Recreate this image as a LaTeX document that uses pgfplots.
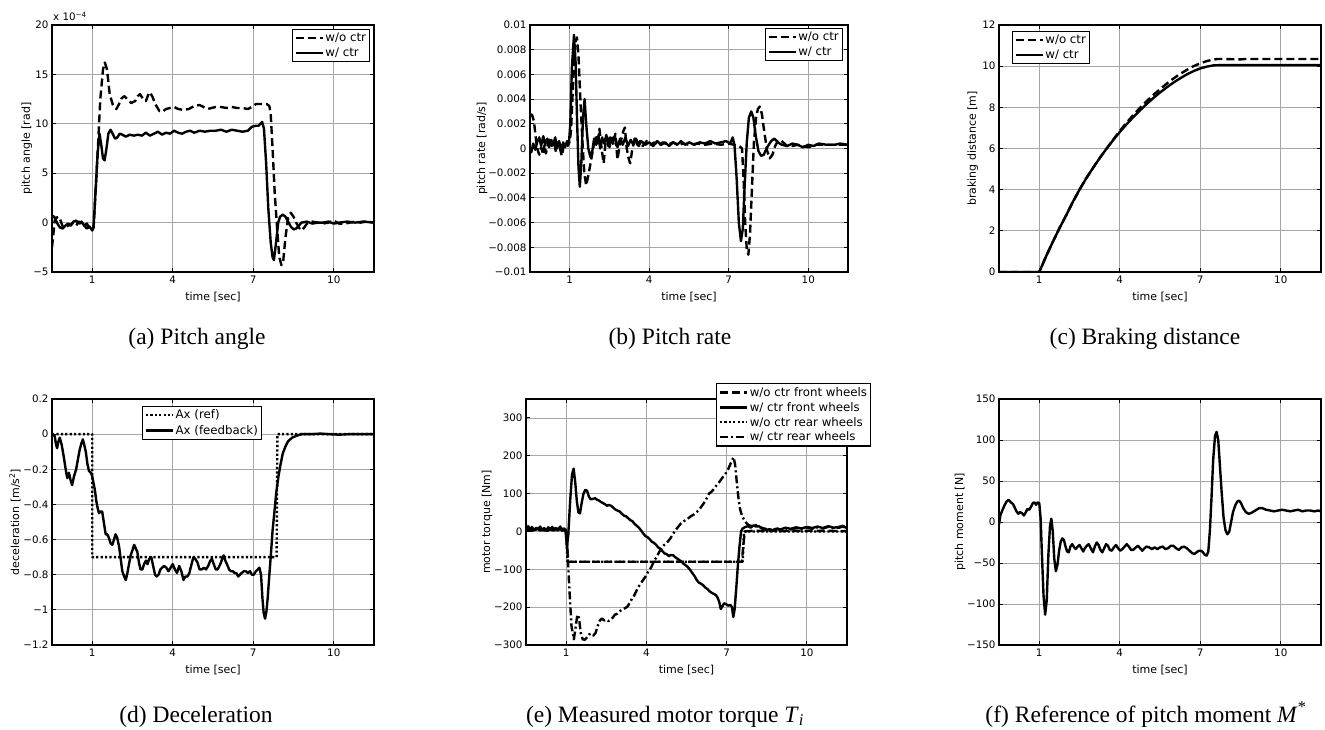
\documentclass[border=0pt]{standalone}
\usepackage{fontspec}
\setmainfont{DejaVu Sans}
\newfontfamily\capfont{Liberation Serif}
\usepackage{pgfplots}
\pgfplotsset{compat=1.18}

\pgfplotsset{
  panel/.style={
    scale only axis,
    xmin=-0.5, xmax=11.5,
    xtick={1,4,7,10}, xticklabels={1,4,7,10},
    grid=major, grid style={line width=0.8pt, black!35},
    axis line style={line width=1.3pt},
    tick align=inside, major tick length=4pt,
    tick style={line width=0.9pt, black},
    tick label style={font=\fontsize{10.3}{12}\selectfont},
    label style={font=\fontsize{11}{13}\selectfont},
    xlabel={time [sec]},
    xlabel style={at={(axis description cs:0.5,-0.101)}, anchor=center},
    legend cell align=left,
    legend style={draw=black, line width=1.2pt, fill=white,
      font=\fontsize{11.8}{13}\selectfont, inner sep=2pt, row sep=2pt,
      nodes={inner sep=1.5pt}},
    legend image code/.code={\draw[##1] (0pt,0pt) -- (27pt,0pt);},
  },
  curve/.style={black, line width=2.4pt, line join=round},
  dsh/.style={curve, dash pattern=on 8pt off 4pt},
  dts/.style={curve, dash pattern=on 2.2pt off 2.2pt},
  dd/.style={curve, dash pattern=on 8pt off 3pt on 2pt off 3pt},
}

\begin{document}
\begin{tikzpicture}[x=1pt,y=1pt]
\useasboundingbox (0,0) rectangle (1325,729);

% (a) pitch angle, values in 1e-4 rad
\begin{axis}[panel, at={(52pt,457pt)}, anchor=south west, width=322pt, height=247pt,
  ymin=-5, ymax=20, ytick={-5,0,5,10,15,20}, yticklabels={−5,0,5,10,15,20},
  ylabel={pitch angle [rad]},
  ylabel style={at={(axis description cs:-0.078,0.5)}, anchor=center},
  legend style={at={(axis description cs:0.988,0.984)}, anchor=north east}]
\addplot[dsh] coordinates {
(-0.5,-2.5) (-0.45,-1.2) (-0.4,0.2) (-0.33,0.5) (-0.25,0.6) (-0.18,0.2) (-0.1,-0.4) (0.0,-0.5) (0.1,-0.3) (0.2,-0.2) (0.3,0.0) (0.4,-0.3) (0.5,0.1) (0.6,-0.1) (0.7,-0.3) (0.8,-0.1) (0.9,-0.6) (1.0,-0.8) (1.05,-0.5) (1.1,2.0) (1.2,7.0) (1.3,12.5) (1.4,15.5) (1.47,16.2) (1.55,15.5) (1.65,13.0) (1.78,11.8) (1.9,11.5) (2.0,12.0) (2.1,12.6) (2.2,12.8) (2.3,12.5) (2.45,12.1) (2.6,12.3) (2.7,12.8) (2.78,13.0) (2.9,12.5) (3.0,12.3) (3.08,12.9) (3.15,13.2) (3.25,12.7) (3.35,12.0) (3.5,11.3) (3.6,11.2) (3.75,11.5) (3.9,11.6) (4.05,11.7) (4.2,11.5) (4.4,11.4) (4.6,11.5) (4.8,11.8) (5.0,11.9) (5.15,11.7) (5.3,11.5) (5.45,11.6) (5.6,11.7) (5.8,11.7) (6.0,11.6) (6.2,11.7) (6.4,11.6) (6.6,11.6) (6.8,11.5) (6.95,11.7) (7.1,12.0) (7.3,12.0) (7.5,12.0) (7.6,11.8) (7.65,11.0) (7.72,7.5) (7.8,3.0) (7.9,-1.0) (7.97,-3.5) (8.05,-4.3) (8.12,-3.8) (8.2,-1.5) (8.3,0.5) (8.4,1.0) (8.5,0.6) (8.6,0.0) (8.7,-0.5) (8.8,-0.8) (8.9,-0.5) (9.0,-0.1) (9.2,0.1) (9.4,0.0) (9.6,-0.1) (9.8,0.0) (10.0,0.2) (10.2,-0.1) (10.4,-0.1) (10.6,0.0) (10.8,0.1) (11.0,0.0) (11.2,0.1) (11.5,0.0)
};
\addlegendentry{w/o ctr}
\addplot[curve] coordinates {
(-0.5,0.7) (-0.42,0.6) (-0.35,0.2) (-0.28,-0.2) (-0.2,-0.5) (-0.1,-0.6) (0.0,-0.3) (0.1,-0.1) (0.2,-0.3) (0.3,0.1) (0.4,0.2) (0.5,-0.1) (0.6,0.1) (0.7,-0.3) (0.8,-0.6) (0.9,-0.4) (1.0,-0.8) (1.05,-0.4) (1.12,3.0) (1.2,7.0) (1.27,9.0) (1.33,8.0) (1.4,6.5) (1.46,6.3) (1.53,7.5) (1.6,9.0) (1.68,9.4) (1.76,9.0) (1.85,8.5) (1.93,8.6) (2.02,9.0) (2.12,8.9) (2.25,8.7) (2.4,8.9) (2.55,8.8) (2.7,8.9) (2.85,8.8) (3.0,9.1) (3.15,8.8) (3.3,9.0) (3.45,9.2) (3.6,8.9) (3.75,9.1) (3.9,9.0) (4.05,9.3) (4.2,9.1) (4.35,9.0) (4.5,9.2) (4.65,9.3) (4.8,9.1) (5.0,9.3) (5.2,9.2) (5.4,9.3) (5.6,9.3) (5.8,9.4) (6.0,9.2) (6.2,9.4) (6.4,9.3) (6.6,9.2) (6.8,9.3) (6.95,9.7) (7.1,9.8) (7.2,9.8) (7.33,10.2) (7.4,9.5) (7.48,6.0) (7.56,1.5) (7.65,-2.0) (7.72,-3.5) (7.77,-3.8) (7.85,-2.0) (7.93,0.0) (8.0,0.6) (8.1,0.8) (8.2,0.6) (8.3,0.1) (8.4,-0.4) (8.5,-0.7) (8.6,-0.6) (8.7,-0.3) (8.8,0.0) (9.0,0.1) (9.2,-0.1) (9.4,0.0) (9.6,0.0) (9.8,0.1) (10.0,-0.1) (10.2,0.0) (10.5,0.1) (10.8,0.0) (11.1,0.1) (11.5,0.0)
};
\addlegendentry{w/ ctr}
\end{axis}

% (b) pitch rate, values in 1e-3 rad/s
\begin{axis}[panel, at={(530pt,457pt)}, anchor=south west, width=318pt, height=247pt,
  ymin=-10, ymax=10, ytick={-10,-8,-6,-4,-2,0,2,4,6,8,10},
  yticklabels={−0.01,−0.008,−0.006,−0.004,−0.002,0,0.002,0.004,0.006,0.008,0.01},
  ylabel={pitch rate [rad/s]},
  ylabel style={at={(axis description cs:-0.151,0.5)}, anchor=center},
  legend style={at={(axis description cs:0.984,0.988)}, anchor=north east}]
\addplot[dsh] coordinates {
(-0.5,2.8) (-0.42,2.7) (-0.35,2.2) (-0.3,1.2) (-0.25,0.3) (-0.2,-0.2) (-0.15,-0.5) (-0.08,0.1) (0.0,-0.5) (0.05,0.3) (0.1,-0.4) (0.18,0.4) (0.25,0.8) (0.32,0.2) (0.4,0.6) (0.48,-0.3) (0.55,0.5) (0.62,0.1) (0.7,-0.6) (0.78,0.3) (0.85,0.5) (0.92,0.2) (1.0,0.6) (1.05,1.5) (1.12,5.0) (1.2,8.5) (1.27,9.0) (1.33,7.5) (1.4,4.0) (1.48,0.5) (1.55,-2.0) (1.62,-3.0) (1.7,-2.2) (1.8,-1.0) (1.9,0.2) (1.98,1.0) (2.05,0.3) (2.12,1.6) (2.2,0.0) (2.28,-1.2) (2.35,0.5) (2.42,0.9) (2.5,0.1) (2.58,1.0) (2.65,0.3) (2.72,1.2) (2.8,-0.9) (2.88,0.2) (2.95,0.8) (3.02,1.4) (3.08,1.7) (3.15,0.0) (3.22,-0.8) (3.28,-1.2) (3.35,-0.2) (3.45,0.8) (3.55,0.3) (3.65,0.6) (3.75,0.2) (3.9,0.6) (4.05,0.3) (4.2,0.5) (4.35,0.2) (4.5,0.5) (4.7,0.3) (4.9,0.5) (5.1,0.3) (5.3,0.4) (5.5,0.3) (5.8,0.4) (6.1,0.3) (6.4,0.4) (6.7,0.3) (7.0,0.4) (7.2,0.3) (7.4,0.2) (7.5,0.0) (7.56,-2.5) (7.62,-6.0) (7.68,-8.2) (7.74,-8.6) (7.8,-7.0) (7.87,-3.5) (7.95,0.5) (8.03,2.5) (8.1,3.2) (8.17,3.4) (8.25,2.8) (8.35,1.2) (8.45,-0.2) (8.55,-0.8) (8.65,-0.5) (8.75,0.2) (8.85,0.6) (8.95,0.7) (9.05,0.5) (9.2,0.2) (9.4,0.2) (9.6,0.3) (9.8,0.2) (10.0,0.1) (10.3,0.3) (10.6,0.3) (10.9,0.3) (11.2,0.3) (11.5,0.3)
};
\addlegendentry{w/o ctr}
\addplot[curve] coordinates {
(-0.5,0.1) (-0.45,-0.3) (-0.38,0.4) (-0.3,-0.1) (-0.22,0.6) (-0.15,0.9) (-0.08,0.2) (0.0,1.0) (0.07,0.3) (0.15,0.8) (0.22,0.1) (0.3,0.7) (0.38,0.3) (0.45,0.9) (0.52,0.0) (0.6,0.6) (0.68,-0.2) (0.75,0.5) (0.82,0.1) (0.9,0.6) (0.97,0.4) (1.02,2.0) (1.08,6.5) (1.16,9.2) (1.22,7.0) (1.28,2.0) (1.33,-1.5) (1.38,-3.1) (1.44,-1.0) (1.5,2.5) (1.56,4.0) (1.62,2.0) (1.7,0.0) (1.78,-0.7) (1.85,-0.2) (1.92,0.8) (2.0,0.3) (2.08,1.0) (2.15,0.0) (2.22,0.9) (2.3,0.4) (2.38,1.1) (2.45,0.2) (2.52,0.9) (2.6,0.5) (2.7,1.0) (2.8,0.1) (2.9,0.8) (3.0,0.3) (3.1,0.9) (3.2,0.2) (3.3,0.7) (3.4,0.3) (3.5,0.8) (3.6,0.2) (3.7,0.6) (3.85,0.3) (4.0,0.5) (4.15,0.2) (4.3,0.6) (4.45,0.3) (4.6,0.5) (4.75,0.2) (4.9,0.5) (5.05,0.3) (5.2,0.6) (5.35,0.3) (5.5,0.5) (5.7,0.3) (5.9,0.5) (6.1,0.4) (6.3,0.6) (6.5,0.4) (6.7,0.5) (6.9,0.6) (7.05,0.4) (7.15,0.9) (7.22,0.2) (7.3,-2.5) (7.38,-6.0) (7.46,-7.5) (7.53,-6.5) (7.6,-3.0) (7.68,0.5) (7.76,2.5) (7.85,3.0) (7.93,2.5) (8.02,1.0) (8.12,-0.2) (8.22,-0.6) (8.32,-0.5) (8.45,0.1) (8.6,0.6) (8.72,0.8) (8.85,0.5) (9.0,0.3) (9.2,0.2) (9.4,0.4) (9.6,0.3) (9.8,0.1) (10.0,0.3) (10.2,0.2) (10.4,0.4) (10.7,0.3) (11.0,0.3) (11.2,0.4) (11.5,0.3)
};
\addlegendentry{w/ ctr}
\end{axis}

% (c) braking distance
\begin{axis}[panel, at={(999pt,457pt)}, anchor=south west, width=322pt, height=247pt,
  ymin=0, ymax=12, ytick={0,2,4,6,8,10,12}, yticklabels={0,2,4,6,8,10,12},
  ylabel={braking distance [m]},
  ylabel style={at={(axis description cs:-0.081,0.5)}, anchor=center},
  legend style={at={(axis description cs:0.04,0.976)}, anchor=north west}]
\addplot[dsh] coordinates {
(-0.5,0) (1.0,0) (1.25,0.75) (1.5,1.45) (1.75,2.12) (2.0,2.75) (2.25,3.4) (2.5,4.0) (2.75,4.55) (3.0,5.05) (3.25,5.53) (3.5,5.98) (3.75,6.42) (4.0,6.85) (4.25,7.25) (4.5,7.62) (4.75,7.97) (5.0,8.3) (5.25,8.6) (5.5,8.88) (5.75,9.15) (6.0,9.4) (6.25,9.62) (6.5,9.82) (6.75,10.0) (7.0,10.14) (7.25,10.25) (7.5,10.32) (7.65,10.35) (8.5,10.33) (8.7,10.35) (11.5,10.35)
};
\addlegendentry{w/o ctr}
\addplot[curve] coordinates {
(-0.5,0) (1.0,0) (1.25,0.75) (1.5,1.45) (1.75,2.12) (2.0,2.75) (2.25,3.4) (2.5,4.0) (2.75,4.55) (3.0,5.05) (3.25,5.53) (3.5,5.98) (3.75,6.4) (4.0,6.8) (4.25,7.17) (4.5,7.52) (4.75,7.85) (5.0,8.16) (5.25,8.45) (5.5,8.72) (5.75,8.97) (6.0,9.2) (6.25,9.41) (6.5,9.6) (6.75,9.76) (7.0,9.89) (7.25,9.98) (7.5,10.04) (7.75,10.05) (11.5,10.05)
};
\addlegendentry{w/ ctr}
\end{axis}

% (d) deceleration
\begin{axis}[panel, at={(52pt,84pt)}, anchor=south west, width=322pt, height=246pt,
  ymin=-1.2, ymax=0.2, ytick={-1.2,-1,-0.8,-0.6,-0.4,-0.2,0,0.2},
  yticklabels={−1.2,−1,−0.8,−0.6,−0.4,−0.2,0,0.2},
  ylabel={deceleration [m/s\textsuperscript{2}]},
  ylabel style={at={(axis description cs:-0.115,0.5)}, anchor=center},
  legend style={at={(axis description cs:0.28,0.972)}, anchor=north west}]
\addplot[dts] coordinates {
(-0.5,0) (1.0,0) (1.0,-0.7) (7.87,-0.7) (7.9,0) (11.5,0)
};
\addlegendentry{Ax (ref)}
\addplot[curve] coordinates {
(-0.5,0) (-0.4,-0.01) (-0.36,-0.05) (-0.31,-0.08) (-0.26,-0.04) (-0.21,-0.02) (-0.14,-0.06) (-0.06,-0.13) (0.02,-0.21) (0.07,-0.25) (0.13,-0.22) (0.19,-0.26) (0.25,-0.29) (0.32,-0.24) (0.4,-0.2) (0.47,-0.14) (0.53,-0.09) (0.6,-0.05) (0.65,-0.03) (0.7,-0.06) (0.76,-0.1) (0.82,-0.17) (0.88,-0.21) (0.95,-0.22) (1.0,-0.24) (1.05,-0.28) (1.1,-0.32) (1.15,-0.38) (1.2,-0.42) (1.25,-0.45) (1.31,-0.44) (1.37,-0.44) (1.43,-0.5) (1.5,-0.57) (1.56,-0.57) (1.62,-0.59) (1.68,-0.62) (1.75,-0.63) (1.81,-0.6) (1.87,-0.57) (1.93,-0.59) (2.0,-0.64) (2.06,-0.71) (2.12,-0.78) (2.19,-0.81) (2.25,-0.83) (2.31,-0.79) (2.37,-0.74) (2.43,-0.69) (2.5,-0.66) (2.56,-0.63) (2.62,-0.65) (2.68,-0.67) (2.74,-0.73) (2.8,-0.77) (2.87,-0.77) (2.93,-0.74) (3.0,-0.72) (3.06,-0.74) (3.12,-0.71) (3.2,-0.7) (3.27,-0.75) (3.34,-0.8) (3.4,-0.81) (3.47,-0.8) (3.54,-0.77) (3.6,-0.76) (3.68,-0.75) (3.76,-0.76) (3.84,-0.78) (3.92,-0.76) (4.0,-0.74) (4.08,-0.77) (4.16,-0.79) (4.24,-0.75) (4.32,-0.78) (4.4,-0.83) (4.47,-0.81) (4.55,-0.81) (4.62,-0.79) (4.7,-0.74) (4.77,-0.7) (4.84,-0.71) (4.92,-0.73) (5.0,-0.77) (5.08,-0.77) (5.16,-0.76) (5.24,-0.77) (5.32,-0.75) (5.4,-0.72) (5.46,-0.71) (5.53,-0.74) (5.6,-0.77) (5.67,-0.77) (5.74,-0.75) (5.8,-0.73) (5.86,-0.7) (5.9,-0.69) (5.96,-0.72) (6.02,-0.74) (6.1,-0.77) (6.17,-0.78) (6.24,-0.78) (6.3,-0.79) (6.37,-0.79) (6.44,-0.81) (6.5,-0.8) (6.57,-0.79) (6.65,-0.78) (6.72,-0.78) (6.8,-0.79) (6.88,-0.78) (6.95,-0.8) (7.02,-0.8) (7.1,-0.78) (7.17,-0.77) (7.23,-0.76) (7.29,-0.8) (7.34,-0.93) (7.39,-1.02) (7.44,-1.05) (7.49,-1.01) (7.54,-0.93) (7.6,-0.8) (7.66,-0.68) (7.72,-0.55) (7.79,-0.44) (7.86,-0.33) (7.94,-0.24) (8.02,-0.17) (8.1,-0.11) (8.2,-0.07) (8.3,-0.04) (8.45,-0.02) (8.6,-0.01) (8.8,0.0) (9.2,0.0) (9.5,0.003) (9.8,0.0) (10.2,-0.003) (10.6,0.0) (11.0,0.0) (11.5,0.0)
};
\addlegendentry{Ax (feedback)}
\end{axis}

% (e) motor torque
\begin{axis}[panel, at={(526pt,84pt)}, anchor=south west, width=321pt, height=246pt,
  ymin=-300, ymax=350, ytick={-300,-200,-100,0,100,200,300},
  yticklabels={−300,−200,−100,0,100,200,300},
  ylabel={motor torque [Nm]},
  ylabel style={at={(axis description cs:-0.121,0.5)}, anchor=center},
  legend style={at={(axis description cs:1.075,1.065)}, anchor=north east, row sep=1.5pt}]
\addplot[dts, forget plot] coordinates {
(-0.5,3) (-0.2,6) (0.1,2) (0.4,5) (0.7,3) (1.0,3) (1.05,-80) (7.6,-80) (7.65,0) (11.5,0)
};
\addplot[dsh] coordinates {
(-0.5,5) (-0.3,2) (-0.1,6) (0.1,3) (0.3,7) (0.5,4) (0.7,6) (0.9,3) (1.0,2) (1.04,-40) (1.08,-80) (7.57,-80) (7.62,-40) (7.68,0) (8.0,2) (9.0,1) (10.0,2) (11.5,1)
};
\addlegendentry{w/o ctr front wheels}
\addplot[curve] coordinates {
(-0.5,8) (-0.42,14) (-0.35,5) (-0.28,12) (-0.2,3) (-0.12,10) (-0.05,6) (0.03,13) (0.1,4) (0.18,9) (0.25,2) (0.33,11) (0.4,6) (0.48,12) (0.55,3) (0.63,9) (0.7,5) (0.78,13) (0.85,4) (0.92,8) (0.98,2) (1.03,-40) (1.08,-10) (1.15,80) (1.22,150) (1.28,166) (1.34,130) (1.4,80) (1.46,50) (1.52,48) (1.58,75) (1.65,100) (1.72,110) (1.78,108) (1.85,92) (1.92,85) (2.0,86) (2.08,88) (2.15,84) (2.22,82) (2.3,78) (2.38,75) (2.45,72) (2.53,68) (2.6,70) (2.68,68) (2.76,63) (2.84,58) (2.92,55) (3.0,53) (3.08,47) (3.16,42) (3.24,40) (3.32,35) (3.4,30) (3.48,27) (3.56,20) (3.64,15) (3.72,10) (3.8,3) (3.88,-5) (3.96,-12) (4.04,-15) (4.12,-20) (4.2,-27) (4.28,-30) (4.36,-35) (4.44,-42) (4.52,-46) (4.6,-52) (4.68,-58) (4.76,-60) (4.84,-65) (4.92,-62) (5.0,-63) (5.08,-68) (5.16,-72) (5.24,-76) (5.32,-80) (5.4,-86) (5.48,-90) (5.56,-95) (5.64,-102) (5.72,-110) (5.8,-118) (5.88,-128) (5.96,-135) (6.04,-138) (6.12,-142) (6.2,-148) (6.28,-152) (6.36,-158) (6.44,-162) (6.52,-165) (6.6,-168) (6.66,-175) (6.72,-185) (6.78,-205) (6.84,-198) (6.9,-190) (6.98,-192) (7.06,-196) (7.14,-194) (7.2,-200) (7.25,-226) (7.3,-205) (7.36,-150) (7.42,-90) (7.48,-40) (7.54,0) (7.6,8) (7.7,12) (7.8,14) (7.9,10) (8.0,16) (8.1,13) (8.2,14) (8.3,9) (8.4,6) (8.5,4) (8.6,6) (8.7,3) (8.8,6) (8.9,8) (9.0,5) (9.2,10) (9.4,7) (9.6,11) (9.8,8) (10.0,12) (10.2,9) (10.4,13) (10.6,9) (10.8,14) (11.0,10) (11.2,12) (11.35,15) (11.5,8)
};
\addlegendentry{w/ ctr front wheels}
\addlegendimage{dts}
\addlegendentry{w/o ctr rear wheels}
\addplot[dd] coordinates {
(-0.5,4) (-0.4,9) (-0.3,2) (-0.2,8) (-0.1,3) (0.0,10) (0.1,4) (0.2,8) (0.3,1) (0.4,7) (0.5,3) (0.6,9) (0.7,2) (0.8,6) (0.9,3) (0.98,5) (1.05,-50) (1.12,-150) (1.2,-250) (1.29,-285) (1.36,-250) (1.42,-220) (1.48,-228) (1.55,-270) (1.62,-285) (1.7,-286) (1.78,-280) (1.86,-272) (1.94,-270) (2.02,-275) (2.1,-268) (2.18,-250) (2.26,-235) (2.34,-230) (2.42,-235) (2.5,-233) (2.58,-237) (2.66,-232) (2.74,-228) (2.82,-220) (2.9,-218) (2.98,-212) (3.06,-208) (3.14,-205) (3.22,-202) (3.3,-198) (3.38,-188) (3.46,-178) (3.54,-170) (3.62,-158) (3.7,-147) (3.78,-138) (3.86,-130) (3.94,-122) (4.02,-112) (4.1,-103) (4.18,-95) (4.26,-82) (4.34,-72) (4.42,-62) (4.5,-52) (4.58,-42) (4.66,-36) (4.74,-32) (4.82,-25) (4.9,-18) (4.98,-8) (5.06,0) (5.14,8) (5.22,15) (5.3,22) (5.38,26) (5.46,30) (5.54,33) (5.62,38) (5.7,42) (5.78,45) (5.86,50) (5.94,55) (6.02,62) (6.1,70) (6.18,78) (6.26,88) (6.34,100) (6.42,104) (6.5,110) (6.58,118) (6.66,125) (6.74,132) (6.82,140) (6.9,148) (6.98,155) (7.06,165) (7.14,178) (7.2,188) (7.26,196) (7.32,175) (7.38,130) (7.44,90) (7.5,60) (7.58,40) (7.66,30) (7.74,22) (7.82,17) (7.9,15) (8.0,14) (8.1,17) (8.2,13) (8.3,10) (8.4,8) (8.5,6) (8.6,4) (8.7,5) (8.8,3) (8.9,6) (9.0,4) (9.2,8) (9.4,5) (9.6,9) (9.8,6) (10.0,10) (10.2,7) (10.4,11) (10.6,8) (10.8,12) (11.0,8) (11.2,10) (11.35,13) (11.5,7)
};
\addlegendentry{w/ ctr rear wheels}
\end{axis}

% (f) pitch moment reference
\begin{axis}[panel, at={(999pt,84pt)}, anchor=south west, width=322pt, height=246pt,
  ymin=-150, ymax=150, ytick={-150,-100,-50,0,50,100,150},
  yticklabels={−150,−100,−50,0,50,100,150},
  ylabel={pitch moment [N]},
  ylabel style={at={(axis description cs:-0.121,0.5)}, anchor=center}]
\addplot[curve] coordinates {
(-0.5,-3) (-0.45,8) (-0.38,14) (-0.3,20) (-0.22,25) (-0.14,27) (-0.06,24) (0.02,22) (0.08,18) (0.15,13) (0.22,10) (0.28,12) (0.35,11) (0.43,8) (0.5,12) (0.56,16) (0.63,15) (0.7,19) (0.76,23) (0.82,24) (0.88,21) (0.94,24) (1.0,23) (1.05,5) (1.1,-40) (1.16,-90) (1.22,-113) (1.28,-95) (1.34,-40) (1.4,-5) (1.45,4) (1.5,-10) (1.56,-45) (1.62,-60) (1.68,-52) (1.74,-35) (1.8,-24) (1.86,-20) (1.92,-22) (1.98,-30) (2.04,-36) (2.1,-37) (2.16,-30) (2.23,-27) (2.3,-31) (2.36,-33) (2.43,-30) (2.5,-28) (2.57,-32) (2.64,-36) (2.7,-32) (2.77,-29) (2.84,-27) (2.92,-32) (3.0,-37) (3.07,-30) (3.14,-25) (3.21,-28) (3.28,-34) (3.35,-37) (3.42,-32) (3.49,-27) (3.56,-29) (3.63,-34) (3.7,-35) (3.78,-31) (3.86,-28) (3.94,-32) (4.02,-35) (4.1,-33) (4.18,-30) (4.26,-27) (4.34,-30) (4.42,-34) (4.5,-34) (4.6,-31) (4.68,-29) (4.76,-32) (4.84,-35) (4.92,-32) (5.0,-30) (5.1,-31) (5.2,-33) (5.3,-31) (5.4,-33) (5.5,-31) (5.6,-30) (5.7,-33) (5.8,-32) (5.9,-29) (6.0,-29) (6.1,-32) (6.2,-34) (6.3,-31) (6.4,-30) (6.5,-32) (6.6,-35) (6.7,-38) (6.78,-39) (6.86,-37) (6.95,-35) (7.03,-35) (7.1,-37) (7.17,-40) (7.24,-41) (7.3,-36) (7.36,-10) (7.42,30) (7.48,75) (7.55,105) (7.61,110) (7.67,100) (7.73,70) (7.8,35) (7.87,5) (7.94,-10) (8.01,-15) (8.08,-12) (8.15,0) (8.22,12) (8.3,20) (8.38,25) (8.45,26) (8.52,23) (8.6,17) (8.7,12) (8.8,10) (8.9,11) (9.0,13) (9.1,15) (9.2,17) (9.3,17) (9.45,15) (9.6,14) (9.75,13) (9.9,14) (10.05,15) (10.2,14) (10.35,13) (10.5,14) (10.65,15) (10.8,13) (10.95,14) (11.1,14) (11.25,13) (11.4,14) (11.5,13)
};
\end{axis}

% exponent of panel (a)
\node[anchor=base west, font=\fontsize{10.3}{12}\selectfont, inner sep=0pt] at (53pt,708pt) {x 10\textsuperscript{−4}};

% captions
\begin{scope}[every node/.style={anchor=base, inner sep=0pt, font=\capfont\fontsize{23.5}{28}\selectfont}]
\node at (197pt,384pt) {(a) Pitch angle};
\node at (670pt,384pt) {(b) Pitch rate};
\node at (1145pt,384pt) {(c) Braking distance};
\node at (196pt,7pt) {(d) Deceleration};
\node at (665pt,7pt) {(e) Measured motor torque \textit{T}\textsubscript{\textit{i}}};
\node at (1146pt,7pt) {(f) Reference of pitch moment \textit{M}\textsuperscript{*}};
\end{scope}
\end{tikzpicture}
\end{document}
